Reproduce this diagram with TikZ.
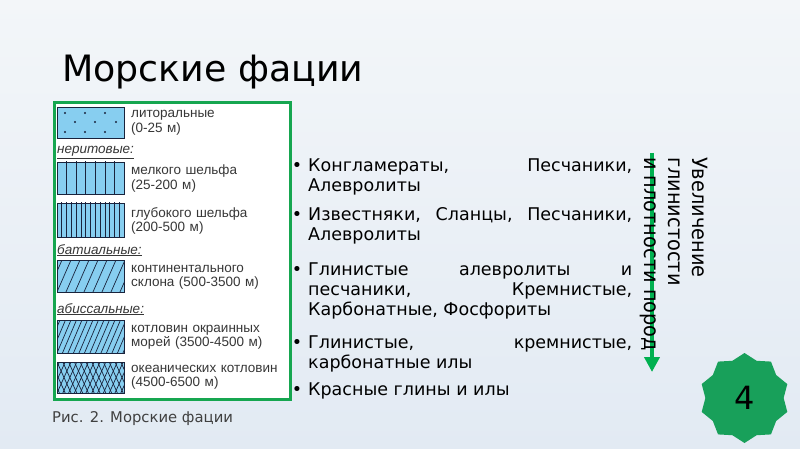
\documentclass[tikz,border=0pt]{standalone}
\usepackage{fontspec}
\setmainfont{DejaVu Sans}
\newfontfamily\legfont{Liberation Sans}
\newfontfamily\rotfont[FakeStretch=0.92]{DejaVu Sans}
\usetikzlibrary{arrows.meta,shapes.geometric}
\definecolor{bgtop}{RGB}{243,246,249}
\definecolor{bgbot}{RGB}{226,234,243}
\definecolor{frameg}{RGB}{22,166,80}
\definecolor{swfill}{RGB}{135,206,240}
\definecolor{swline}{RGB}{25,35,60}
\definecolor{legtext}{RGB}{55,55,55}
\definecolor{captxt}{RGB}{64,64,64}
\definecolor{arrowg}{RGB}{0,176,80}
\definecolor{starg}{RGB}{24,160,90}
\begin{document}
\begin{tikzpicture}[x=1pt,y=-1pt,
  legtxt/.style={anchor=base west, inner sep=0, text width=165pt, align=left,
    font=\legfont\fontsize{13.5}{14.5}\selectfont, text=legtext},
  legcat/.style={anchor=base west, inner sep=0,
    font=\legfont\itshape\fontsize{13.5}{14.5}\selectfont, text=legtext},
  swatch/.style={draw=swline, line width=0.8pt, anchor=north west,
    inner sep=0, minimum width=67pt},
  hatch/.style={draw=swline, line width=0.7pt},
  itemtxt/.style={anchor=base west, inner sep=0, text width=324pt, align=justify,
    font=\fontsize{17.5}{20}\selectfont},
  bul/.style={anchor=base, inner sep=0, font=\fontsize{17.5}{20}\selectfont}]
\useasboundingbox (0,0) rectangle (800,449);
\shade[top color=bgtop, bottom color=bgbot] (0,0) rectangle (800,449);

% title
\node[anchor=base west, inner sep=0, font=\fontsize{36.3}{40}\selectfont] (title) at (62,82) {Морские фации};

% legend frame
\node[draw=frameg, line width=2.6pt, fill=white, anchor=north west, inner sep=0,
  minimum width=236pt, minimum height=297pt] (legend) at (53,101) {};

% swatch fills and patterns
\begin{scope}
  \clip (57,107) rectangle (124,138);
  \fill[swfill] (57,107) rectangle (124,138);
  \foreach \px/\py in {65/113,85/113,105/113,75/122,95/122,116/122,65/132,85/132,105/132}
    \fill[swline] (\px,\py) circle (1.2pt);
\end{scope}
\begin{scope}
  \clip (57,162) rectangle (124,194);
  \fill[swfill] (57,162) rectangle (124,194);
  \foreach \k in {1,...,6} \draw[hatch] ({57+\k*9.57},160) -- ({57+\k*9.57},196);
\end{scope}
\begin{scope}
  \clip (57,203) rectangle (124,237);
  \fill[swfill] (57,203) rectangle (124,237);
  \foreach \k in {1,...,13} \draw[hatch] ({57+\k*4.79},200) -- ({57+\k*4.79},240);
\end{scope}
\begin{scope}
  \clip (57,260) rectangle (124,292);
  \fill[swfill] (57,260) rectangle (124,292);
  \foreach \k in {-3,...,8} \draw[hatch] ({57+\k*9},292) -- ({71+\k*9},260);
\end{scope}
\begin{scope}
  \clip (57,320) rectangle (124,353);
  \fill[swfill] (57,320) rectangle (124,353);
  \foreach \k in {-4,...,13} \draw[hatch] ({57+\k*5.5},353) -- ({71+\k*5.5},320);
\end{scope}
\begin{scope}
  \clip (57,362) rectangle (124,393);
  \fill[swfill] (57,362) rectangle (124,393);
  \foreach \k in {-4,...,14} {\draw[hatch] ({57+\k*5.8},393) -- ({71+\k*5.8},362);
    \draw[hatch] ({57+\k*5.8},362) -- ({71+\k*5.8},393);}
\end{scope}

% swatch borders
\node[swatch, minimum height=31pt] (s1) at (57,107) {};
\node[swatch, minimum height=32pt] (s2) at (57,162) {};
\node[swatch, minimum height=34pt] (s3) at (57,203) {};
\node[swatch, minimum height=32pt] (s4) at (57,260) {};
\node[swatch, minimum height=33pt] (s5) at (57,320) {};
\node[swatch, minimum height=31pt] (s6) at (57,362) {};

% legend texts
\node[legtxt] (t1) at (131,118) {литоральные\\(0-25 м)};
\node[legcat] (c1) at (57,154) {\underline{неритовые:}};
\node[legtxt] (t2) at (131,175) {мелкого шельфа\\(25-200 м)};
\node[legtxt] (t3) at (131,217) {глубокого шельфа\\(200-500 м)};
\node[legcat] (c2) at (57,254) {\underline{батиальные:}};
\node[legtxt] (t4) at (131,272) {континентального\\склона (500-3500 м)};
\node[legcat] (c3) at (57,313) {\underline{абиссальные:}};
\node[legtxt] (t5) at (131,332) {котловин окраинных\\морей (3500-4500 м)};
\node[legtxt] (t6) at (131,372) {океанических котловин\\(4500-6500 м)};

% caption
\node[anchor=base west, inner sep=0, font=\fontsize{14.8}{16}\selectfont, text=captxt] (cap) at (52,422) {Рис. 2. Морские фации};

% bullet list
\node[bul] (b1) at (297,172) {•};
\node[itemtxt] (i1) at (308,172) {Конгламераты, Песчаники,\linebreak Алевролиты};
\node[bul] (b2) at (297,220) {•};
\node[itemtxt] (i2) at (308,220) {Известняки, Сланцы, Песчаники,\linebreak Алевролиты};
\node[bul] (b3) at (297,275) {•};
\node[itemtxt] (i3) at (308,275) {Глинистые алевролиты и\linebreak песчаники, Кремнистые,\linebreak Карбонатные, Фосфориты};
\node[bul] (b4) at (297,348) {•};
\node[itemtxt] (i4) at (308,348) {Глинистые, кремнистые,\linebreak карбонатные илы};
\node[bul] (b5) at (297,395) {•};
\node[itemtxt] (i5) at (308,395) {Красные глины и илы};

% arrow and rotated text
\coordinate (atop) at (652,153);
\coordinate (abot) at (652,372);
\draw[arrowg, line width=4.5pt, -{Triangle[width=15pt,length=15pt]}] (atop) -- (abot);
\node[rotate=-90, anchor=north west, inner sep=0, align=left,
  font=\rotfont\fontsize{21}{24}\selectfont] (rot) at (708,157)
  {Увеличение\\глинистости\\и плотности пород};

% badge
\node[star, star points=10, star point ratio=1.15, minimum size=90pt, fill=starg,
  inner sep=0, font=\fontsize{32}{32}\selectfont] (badge) at (744.5,398) {4};
\end{tikzpicture}
\end{document}
